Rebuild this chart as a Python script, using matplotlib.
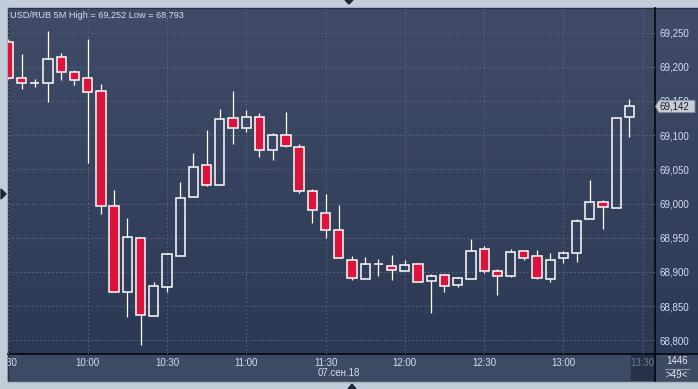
# USD/RUB 5 minute candles, 07.09.2018, dark terminal style
import numpy as np
import matplotlib
matplotlib.use("Agg")
from matplotlib import pyplot as plt
from matplotlib.colors import LinearSegmentedColormap
from matplotlib.patches import Rectangle, Polygon
from matplotlib.transforms import blended_transform_factory

# one candle every 5 min, starting 9:30
opens  = [69.236, 69.184, 69.177, 69.177, 69.215, 69.192, 69.183, 69.164, 68.997, 68.870,
          68.949, 68.836, 68.878, 68.924, 69.009, 69.057, 69.027, 69.125, 69.111, 69.127,
          69.078, 69.101, 69.082, 69.019, 68.986, 68.962, 68.918, 68.889, 68.912, 68.909,
          68.902, 68.911, 68.887, 68.895, 68.881, 68.889, 68.933, 68.902, 68.894, 68.930,
          68.923, 68.889, 68.920, 68.927, 68.978, 69.003, 68.994, 69.126]
highs  = [69.240, 69.219, 69.182, 69.252, 69.220, 69.196, 69.241, 69.175, 69.020, 68.979,
          68.949, 68.885, 68.928, 69.031, 69.074, 69.107, 69.139, 69.164, 69.137, 69.132,
          69.103, 69.134, 69.087, 69.022, 69.014, 68.998, 68.923, 68.922, 68.919, 68.925,
          68.917, 68.913, 68.897, 68.895, 68.892, 68.948, 68.938, 68.905, 68.933, 68.931,
          68.932, 68.927, 68.931, 68.977, 69.034, 69.005, 69.125, 69.153]
lows   = [69.182, 69.167, 69.171, 69.149, 69.181, 69.174, 69.059, 68.985, 68.871, 68.834,
          68.793, 68.836, 68.870, 68.924, 69.009, 69.026, 69.027, 69.087, 69.105, 69.068,
          69.063, 69.082, 69.016, 68.971, 68.949, 68.920, 68.888, 68.889, 68.894, 68.888,
          68.902, 68.886, 68.840, 68.870, 68.878, 68.889, 68.899, 68.867, 68.893, 68.918,
          68.889, 68.886, 68.913, 68.915, 68.978, 68.963, 68.994, 69.097]
closes = [69.183, 69.177, 69.177, 69.212, 69.193, 69.181, 69.163, 68.996, 68.871, 68.951,
          68.837, 68.880, 68.926, 69.008, 69.054, 69.027, 69.124, 69.110, 69.126, 69.079,
          69.101, 69.084, 69.019, 68.990, 68.961, 68.920, 68.891, 68.911, 68.912, 68.903,
          68.910, 68.886, 68.894, 68.880, 68.891, 68.930, 68.902, 68.894, 68.929, 68.921,
          68.891, 68.918, 68.927, 68.975, 69.002, 68.995, 69.125, 69.142]

time_labels = ["9:30", "10:00", "10:30", "11:00", "11:30", "12:00", "12:30", "13:00", "13:30"]
time_pos = [0, 6, 12, 18, 24, 30, 36, 42, 48]
price_ticks = [68.80, 68.85, 68.90, 68.95, 69.00, 69.05, 69.10, 69.15, 69.20, 69.25]
date_label = "07.сен.18"

def fmt(v):
    return ("%.3f" % v).replace(".", ",")

W, H = 698, 389
fig = plt.figure(figsize=(W / 100, H / 100), dpi=100)
fig.patch.set_facecolor("#c3cdd9")

# background layer in pixel coordinates
bg = fig.add_axes([0, 0, 1, 1])
bg.set_xlim(0, W)
bg.set_ylim(H, 0)
bg.axis("off")
grad = LinearSegmentedColormap.from_list("g", ["#404c67", "#2c3955"])
bg.imshow(np.linspace(0, 1, 100).reshape(-1, 1), cmap=grad, aspect="auto",
          extent=(8, W, 354, 8), zorder=0)
bg.add_patch(Rectangle((8, 354), W - 8, 27, color="#3d4a64", zorder=1))
bg.add_patch(Rectangle((631, 355), 24, 25, color="#26324a", zorder=1))
bg.plot([7.5, 7.5, W], [381, 7.5, 7.5], color="#27324a", lw=1, zorder=2)
bg.plot([655, 655], [8, 381], color="#05070c", lw=1.2, zorder=5)
bg.plot([8, W], [354, 354], color="#05070c", lw=1.2, zorder=5)
bg.plot([8, W], [381.5, 381.5], color="#a9b4c2", lw=1, zorder=2)
band = Rectangle((8, 354), 623, 27, transform=bg.transData)

tc = "#d2def2"
bg.text(10, 15, "USD/RUB 5M High = %s Low = %s" % (fmt(max(highs)), fmt(min(lows))),
        color=tc, fontsize=6.6, va="center", ha="left", family="Liberation Sans", zorder=6)
bg.text(677, 361, "1446", color="#e6ecf4", fontsize=7, ha="center", va="center",
        family="Liberation Sans", zorder=6)
bg.plot([665, 689], [368.5, 368.5], color="#8c97a8", lw=0.8, zorder=6)
bg.text(677, 375, ">49<", color="#e6ecf4", fontsize=7, ha="center", va="center",
        family="Liberation Sans", zorder=6)
bg.add_patch(Polygon([[1, 189], [6, 194], [1, 199]], color="#1c2639"))
bg.add_patch(Polygon([[345, 0], [353, 0], [349, 4]], color="#1c2639"))
bg.add_patch(Polygon([[348, 389], [356, 389], [352, 384]], color="#1c2639"))

# main candle axes
ax = fig.add_axes([8 / W, (H - 354) / H, (655 - 8) / W, (354 - 8) / H])
ax.set_facecolor("none")
ax.set_xlim(-0.03, 48.93)
ax.set_ylim(68.780, 69.286)
for s in ax.spines.values():
    s.set_visible(False)

x = np.arange(len(opens))
o = np.array(opens); c = np.array(closes)
hi = np.array(highs); lo = np.array(lows)
up = c >= o
top = np.maximum(o, c); bot = np.minimum(o, c)
ax.vlines(x, top, hi, color="white", lw=0.9, zorder=3)
ax.vlines(x, lo, bot, color="white", lw=0.9, zorder=3)
ax.bar(x[up], (c - o)[up], bottom=o[up], width=0.7, facecolor="none",
       edgecolor="white", lw=1.1, zorder=4)
ax.bar(x[~up], (c - o)[~up], bottom=o[~up], width=0.7, facecolor="#dc143c",
       edgecolor="white", lw=1.1, zorder=4)

ax.set_xticks(time_pos)
ax.set_xticklabels([])
ax.set_yticks(price_ticks)
ax.set_yticklabels([fmt(v) for v in price_ticks], family="Liberation Sans")
ax.yaxis.tick_right()
ax.tick_params(axis="y", length=0, pad=3, labelsize=7, labelcolor=tc)
ax.tick_params(axis="x", length=0)
ax.grid(True, color="#5b6782", lw=0.75, ls=(0, (1.4, 2.4)))
ax.set_axisbelow(True)

# time labels under the candles
tr = blended_transform_factory(ax.transData, bg.transData)
for p, lab in zip(time_pos, time_labels):
    col = "#737d8e" if p == time_pos[-1] else tc
    t = fig.text(p, 363, lab, transform=tr, color=col, fontsize=7, ha="center",
                 va="center", family="Liberation Sans", zorder=6)
    if p == time_pos[0]:
        t.set_clip_path(band)
fig.text(339, 373.5, date_label, transform=blended_transform_factory(bg.transData, bg.transData),
         color=tc, fontsize=7, ha="center", va="center", family="Liberation Sans")

# last price marker on the price scale, drawn over the 69,150 label as in the terminal
last = closes[-1]
tr2 = blended_transform_factory(bg.transData, ax.transData)
d = 0.0091
box = Polygon([[655.5, last], [659, last + d], [695, last + d], [695, last - d], [659, last - d]],
              closed=True, transform=tr2, facecolor="#c9cdd4", edgecolor="#7f8898",
              lw=0.6, zorder=8, clip_on=False)
fig.add_artist(box)
fig.text(660, last, fmt(last), transform=tr2, color="#151b28", fontsize=7,
         ha="left", va="center", family="Liberation Sans", zorder=9)

fig.savefig("out.png", dpi=100, facecolor=fig.get_facecolor())
